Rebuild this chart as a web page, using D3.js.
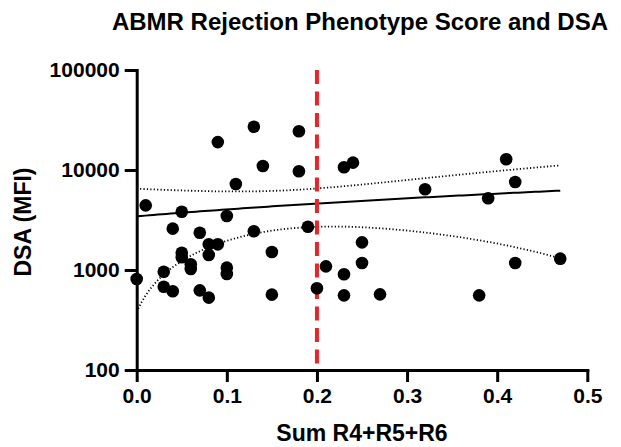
<!DOCTYPE html>
<html><head><meta charset="utf-8">
<script src="https://cdn.jsdelivr.net/npm/d3@7/dist/d3.min.js"></script>
<style>
body{margin:0;background:#fff}
svg{display:block}
text{font-family:"Liberation Sans",Arial,Helvetica,sans-serif;font-weight:bold;fill:#000}
</style>
</head><body>
<script>
// Data
const sumR456 = [0.00,0.01,0.03,0.03,0.04,0.04,0.05,0.05,0.05,0.06,0.06,0.07,0.07,0.08,0.08,0.08,0.09,0.09,0.10,0.10,0.10,0.11,0.13,0.13,0.14,0.15,0.15,0.18,0.18,0.19,0.20,0.21,0.23,0.23,0.23,0.24,0.25,0.25,0.27,0.32,0.38,0.39,0.41,0.42,0.42,0.47];
const dsaMFI  = [813,4430,962,681,2590,612,3830,1490,1340,1140,1023,2360,626,1806,1413,529,19000,1806,3470,1055,912,7240,27100,2440,10960,1514,567,24400,9700,2710,656,1088,10640,906,558,11840,1890,1175,571,6410,558,5210,12800,7590,1175,1298];
const xTickValues = [0,0.1,0.2,0.3,0.4,0.5];
const yTickValues = [100,1000,10000,100000];
const cutoff = 0.2;
const titleText = "ABMR Rejection Phenotype Score and DSA";
const xTitle = "Sum R4+R5+R6";
const yTitle = "DSA (MFI)";

const W = 621, H = 447;
const svg = d3.select("body").append("svg").attr("width", W).attr("height", H);

const x = d3.scaleLinear().domain([0, 0.5]).range([136.7, 587.3]);
const y = d3.scaleLog().domain([100, 100000]).range([370, 70]);

// linear regression on raw values with 95% confidence band
const n = sumR456.length;
const xm = d3.mean(sumR456), ym = d3.mean(dsaMFI);
let sxx = 0, sxy = 0;
for (let i = 0; i < n; i++) { sxx += (sumR456[i]-xm)**2; sxy += (sumR456[i]-xm)*(dsaMFI[i]-ym); }
const slope = sxy / sxx, icpt = ym - slope * xm;
let sse = 0;
for (let i = 0; i < n; i++) { const r = dsaMFI[i] - (icpt + slope*sumR456[i]); sse += r*r; }
const s = Math.sqrt(sse / (n - 2));
const tcrit = 2.015;
const x0 = d3.min(sumR456), x1 = d3.max(sumR456);
const xs = d3.range(0, 101).map(i => x0 + (x1 - x0) * i / 100);
const fit = xs.map(v => {
  const c = icpt + slope * v;
  const hw = tcrit * s * Math.sqrt(1/n + (v - xm)**2 / sxx);
  return {x: v, c, lo: Math.max(c - hw, 101), hi: c + hw};
});

const line = key => d3.line().x(d => x(d.x)).y(d => y(d[key]));
svg.append("path").datum(fit).attr("d", line("hi")).attr("fill","none").attr("stroke","#000").attr("stroke-width",1.8).attr("stroke-dasharray","1.2,2.2");
svg.append("path").datum(fit).attr("d", line("lo")).attr("fill","none").attr("stroke","#000").attr("stroke-width",1.8).attr("stroke-dasharray","1.2,2.2");
svg.append("path").datum(fit).attr("d", line("c")).attr("fill","none").attr("stroke","#000").attr("stroke-width",2);

// cutoff line
svg.append("line").attr("x1", x(cutoff)).attr("x2", x(cutoff)).attr("y1", y(100000)).attr("y2", y(100))
  .attr("stroke","#e3262a").attr("stroke-width",4).attr("stroke-dasharray","14,7.5");

// points
svg.append("g").selectAll("circle").data(sumR456.map((v,i)=>[v,dsaMFI[i]])).join("circle")
  .attr("cx", d => x(d[0])).attr("cy", d => y(d[1])).attr("r", 6.3).attr("fill","#000");

// axes
const gx = svg.append("g").attr("transform", `translate(0,${y(100)})`)
  .call(d3.axisBottom(x).tickValues(xTickValues).tickFormat(d3.format(".1f")).tickSize(12).tickSizeOuter(0).tickPadding(6));
const gy = svg.append("g").attr("transform", `translate(${x(0)},0)`)
  .call(d3.axisLeft(y).tickValues(yTickValues).tickFormat(d3.format("d")).tickSize(12).tickSizeOuter(0).tickPadding(5));
[gx, gy].forEach(g => {
  g.selectAll("path.domain").attr("stroke","#000").attr("stroke-width",3).attr("stroke-linecap","square");
  g.selectAll(".tick line").attr("stroke","#000").attr("stroke-width",3);
  g.selectAll(".tick text").style("font-size","21px").style("font-family",'"Liberation Sans",Arial,sans-serif').style("font-weight","bold").attr("fill","#000");
});

// titles
svg.append("text").attr("x", 360).attr("y", 30).attr("text-anchor","middle").style("font-size","24px").text(titleText);
svg.append("text").attr("x", 362).attr("y", 441).attr("text-anchor","middle").style("font-size","23px").text(xTitle);
svg.append("text").attr("transform", `translate(31,222) rotate(-90)`).attr("text-anchor","middle").style("font-size","23px").text(yTitle);
</script>
</body></html>
